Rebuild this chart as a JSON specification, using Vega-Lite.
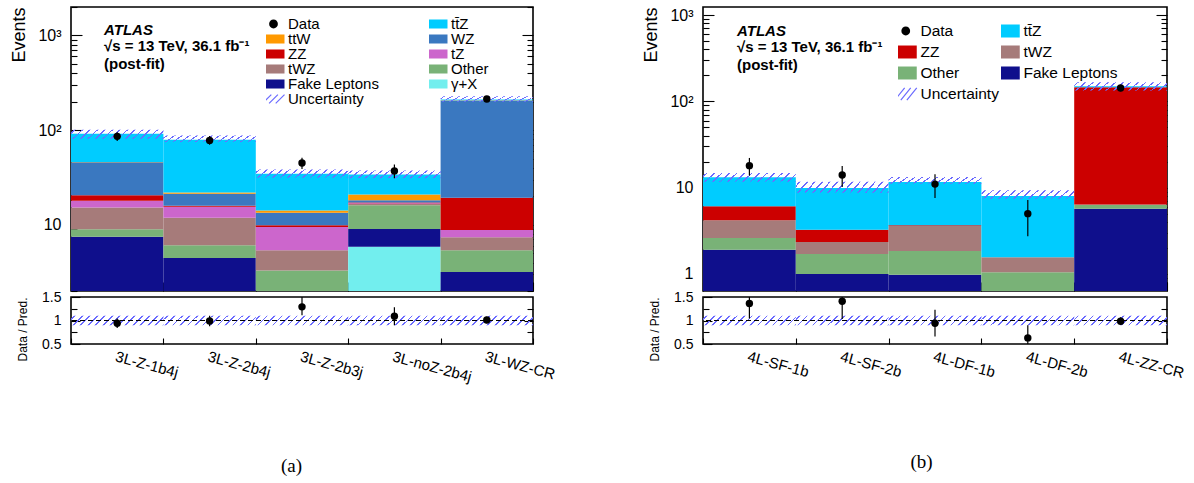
{
  "$schema": "https://vega.github.io/schema/vega-lite/v6.json",
  "padding": {"left": 10, "top": 5, "right": 5, "bottom": 5},
  "config": {
    "view": {"stroke": "black", "strokeWidth": 1.6},
    "font": "Liberation Sans",
    "axis": {"domain": false, "grid": false, "tickColor": "black", "tickWidth": 1.1, "labelColor": "black", "titleColor": "black", "labelFont": "Liberation Sans", "titleFont": "Liberation Sans", "titleFontWeight": "normal"},
    "legend": {"labelFont": "Liberation Sans", "labelColor": "black"},
    "title": {"color": "black", "subtitleColor": "black"}
  },
  "datasets": {
    "stackA": [
      {"region": "3L-Z-1b4j", "process": "Fake Leptons", "rank": 2, "events": 7.5},
      {"region": "3L-Z-1b4j", "process": "Other", "rank": 3, "events": 1.5},
      {"region": "3L-Z-1b4j", "process": "tWZ", "rank": 4, "events": 6.2},
      {"region": "3L-Z-1b4j", "process": "tZ", "rank": 5, "events": 2.8},
      {"region": "3L-Z-1b4j", "process": "ZZ", "rank": 6, "events": 2.5},
      {"region": "3L-Z-1b4j", "process": "WZ", "rank": 7, "events": 25.2},
      {"region": "3L-Z-1b4j", "process": "ttW", "rank": 8, "events": 0.5},
      {"region": "3L-Z-1b4j", "process": "tt̄Z", "rank": 9, "events": 45.4},
      {"region": "3L-Z-2b4j", "process": "Fake Leptons", "rank": 2, "events": 4.46},
      {"region": "3L-Z-2b4j", "process": "Other", "rank": 3, "events": 1.62},
      {"region": "3L-Z-2b4j", "process": "tWZ", "rank": 4, "events": 5.82},
      {"region": "3L-Z-2b4j", "process": "tZ", "rank": 5, "events": 3.6},
      {"region": "3L-Z-2b4j", "process": "ZZ", "rank": 6, "events": 0.4},
      {"region": "3L-Z-2b4j", "process": "WZ", "rank": 7, "events": 5.4},
      {"region": "3L-Z-2b4j", "process": "ttW", "rank": 8, "events": 0.7},
      {"region": "3L-Z-2b4j", "process": "tt̄Z", "rank": 9, "events": 57.2},
      {"region": "3L-Z-2b3j", "process": "Fake Leptons", "rank": 2, "events": 1.5},
      {"region": "3L-Z-2b3j", "process": "Other", "rank": 3, "events": 1.8},
      {"region": "3L-Z-2b3j", "process": "tWZ", "rank": 4, "events": 2.08},
      {"region": "3L-Z-2b3j", "process": "tZ", "rank": 5, "events": 4.1},
      {"region": "3L-Z-2b3j", "process": "ZZ", "rank": 6, "events": 0.4},
      {"region": "3L-Z-2b3j", "process": "WZ", "rank": 7, "events": 3.52},
      {"region": "3L-Z-2b3j", "process": "ttW", "rank": 8, "events": 0.8},
      {"region": "3L-Z-2b3j", "process": "tt̄Z", "rank": 9, "events": 20.5},
      {"region": "3L-noZ-2b4j", "process": "γ+X", "rank": 1, "events": 5.88},
      {"region": "3L-noZ-2b4j", "process": "Fake Leptons", "rank": 2, "events": 3.16},
      {"region": "3L-noZ-2b4j", "process": "Other", "rank": 3, "events": 7.06},
      {"region": "3L-noZ-2b4j", "process": "tWZ", "rank": 4, "events": 0.5},
      {"region": "3L-noZ-2b4j", "process": "tZ", "rank": 5, "events": 0.3},
      {"region": "3L-noZ-2b4j", "process": "ZZ", "rank": 6, "events": 0.3},
      {"region": "3L-noZ-2b4j", "process": "WZ", "rank": 7, "events": 0.94},
      {"region": "3L-noZ-2b4j", "process": "ttW", "rank": 8, "events": 2.8},
      {"region": "3L-noZ-2b4j", "process": "tt̄Z", "rank": 9, "events": 13.1},
      {"region": "3L-WZ-CR", "process": "Fake Leptons", "rank": 2, "events": 3.18},
      {"region": "3L-WZ-CR", "process": "Other", "rank": 3, "events": 2.2},
      {"region": "3L-WZ-CR", "process": "tWZ", "rank": 4, "events": 2.0},
      {"region": "3L-WZ-CR", "process": "tZ", "rank": 5, "events": 1.43},
      {"region": "3L-WZ-CR", "process": "ZZ", "rank": 6, "events": 10.5},
      {"region": "3L-WZ-CR", "process": "WZ", "rank": 7, "events": 186.7},
      {"region": "3L-WZ-CR", "process": "ttW", "rank": 8, "events": 1.0},
      {"region": "3L-WZ-CR", "process": "tt̄Z", "rank": 9, "events": 4.0}
    ],
    "sumA": [
      {"region": "3L-Z-1b4j", "data": 86, "dlo": 77, "dhi": 95, "ulo": 81, "uhi": 101, "ratio": 0.943, "rlo": 0.84, "rhi": 1.04, "blo": 0.9, "bhi": 1.1},
      {"region": "3L-Z-2b4j", "data": 78, "dlo": 70, "dhi": 87, "ulo": 75, "uhi": 88, "ratio": 0.99, "rlo": 0.88, "rhi": 1.1, "blo": 0.9, "bhi": 1.1},
      {"region": "3L-Z-2b3j", "data": 45, "dlo": 39, "dhi": 51, "ulo": 31.5, "uhi": 38.5, "ratio": 1.29, "rlo": 1.11, "rhi": 1.6, "blo": 0.9, "bhi": 1.1},
      {"region": "3L-noZ-2b4j", "data": 37, "dlo": 31, "dhi": 43.4, "ulo": 31, "uhi": 37.5, "ratio": 1.09, "rlo": 0.9, "rhi": 1.28, "blo": 0.9, "bhi": 1.1},
      {"region": "3L-WZ-CR", "data": 213, "dlo": 199, "dhi": 228, "ulo": 200, "uhi": 228, "ratio": 1.01, "rlo": 0.94, "rhi": 1.08, "blo": 0.9, "bhi": 1.1}
    ],
    "stackB": [
      {"region": "4L-SF-1b", "process": "Fake Leptons", "rank": 1, "events": 1.91},
      {"region": "4L-SF-1b", "process": "Other", "rank": 2, "events": 0.7},
      {"region": "4L-SF-1b", "process": "tWZ", "rank": 3, "events": 1.58},
      {"region": "4L-SF-1b", "process": "ZZ", "rank": 4, "events": 1.9},
      {"region": "4L-SF-1b", "process": "tt̄Z", "rank": 5, "events": 7.11},
      {"region": "4L-SF-2b", "process": "Fake Leptons", "rank": 1, "events": 1.0},
      {"region": "4L-SF-2b", "process": "Other", "rank": 2, "events": 0.7},
      {"region": "4L-SF-2b", "process": "tWZ", "rank": 3, "events": 0.65},
      {"region": "4L-SF-2b", "process": "ZZ", "rank": 4, "events": 0.91},
      {"region": "4L-SF-2b", "process": "tt̄Z", "rank": 5, "events": 6.67},
      {"region": "4L-DF-1b", "process": "Fake Leptons", "rank": 1, "events": 0.98},
      {"region": "4L-DF-1b", "process": "Other", "rank": 2, "events": 0.87},
      {"region": "4L-DF-1b", "process": "tWZ", "rank": 3, "events": 1.75},
      {"region": "4L-DF-1b", "process": "ZZ", "rank": 4, "events": 0.07},
      {"region": "4L-DF-1b", "process": "tt̄Z", "rank": 5, "events": 7.93},
      {"region": "4L-DF-2b", "process": "Fake Leptons", "rank": 1, "events": 0.3},
      {"region": "4L-DF-2b", "process": "Other", "rank": 2, "events": 0.75},
      {"region": "4L-DF-2b", "process": "tWZ", "rank": 3, "events": 0.51},
      {"region": "4L-DF-2b", "process": "tt̄Z", "rank": 5, "events": 6.46},
      {"region": "4L-ZZ-CR", "process": "Fake Leptons", "rank": 1, "events": 5.71},
      {"region": "4L-ZZ-CR", "process": "Other", "rank": 2, "events": 0.59},
      {"region": "4L-ZZ-CR", "process": "tWZ", "rank": 3, "events": 0.1},
      {"region": "4L-ZZ-CR", "process": "ZZ", "rank": 4, "events": 139.3},
      {"region": "4L-ZZ-CR", "process": "tt̄Z", "rank": 5, "events": 3.9}
    ],
    "sumB": [
      {"region": "4L-SF-1b", "data": 18, "dlo": 13.8, "dhi": 22.1, "ulo": 11.7, "uhi": 14.8, "ratio": 1.36, "rlo": 1.04, "rhi": 1.67, "blo": 0.9, "bhi": 1.1},
      {"region": "4L-SF-2b", "data": 14, "dlo": 10.2, "dhi": 17.8, "ulo": 8.76, "uhi": 11.7, "ratio": 1.41, "rlo": 1.03, "rhi": 1.79, "blo": 0.9, "bhi": 1.1},
      {"region": "4L-DF-1b", "data": 11, "dlo": 7.6, "dhi": 14.3, "ulo": 11.1, "uhi": 13.3, "ratio": 0.94, "rlo": 0.66, "rhi": 1.23, "blo": 0.9, "bhi": 1.1},
      {"region": "4L-DF-2b", "data": 5, "dlo": 2.73, "dhi": 7.2, "ulo": 7.45, "uhi": 9.33, "ratio": 0.63, "rlo": 0.34, "rhi": 0.9, "blo": 0.9, "bhi": 1.1},
      {"region": "4L-ZZ-CR", "data": 143, "dlo": 131, "dhi": 155, "ulo": 134, "uhi": 167, "ratio": 0.985, "rlo": 0.91, "rhi": 1.07, "blo": 0.9, "bhi": 1.1}
    ]
  },
  "resolve": {"scale": {"color": "independent"}, "legend": {"color": "independent"}},
  "bounds": "flush",
  "align": "each",
  "columns": 2,
  "spacing": {"row": 6, "column": 170},
  "concat": [
    {
      "width": 462,
      "height": 284,
      "title": {"text": "ATLAS", "subtitle": ["√s = 13 TeV, 36.1 fb⁻¹", "(post-fit)"], "anchor": "start", "frame": "group", "orient": "top", "offset": -66, "dx": 33, "font": "Liberation Sans", "fontSize": 15, "fontStyle": "italic", "fontWeight": "bold", "subtitleFont": "Liberation Sans", "subtitleFontSize": 15, "subtitleFontWeight": "bold", "subtitleLineHeight": 18, "subtitlePadding": 1},
      "resolve": {"axis": {"y": "independent"}},
      "encoding": {
        "x": {"field": "region", "type": "nominal", "sort": null, "scale": {"domain": ["3L-Z-1b4j", "3L-Z-2b4j", "3L-Z-2b3j", "3L-noZ-2b4j", "3L-WZ-CR"], "paddingInner": 0, "paddingOuter": 0}, "axis": {"labels": false, "title": null, "tickBand": "extent", "tickSize": -9}}
      },
      "layer": [
        {
          "data": {"name": "stackA"},
          "transform": [{"stack": "events", "groupby": ["region"], "sort": [{"field": "rank", "order": "ascending"}], "as": ["lo", "hi"]}],
          "mark": {"type": "bar", "clip": true},
          "encoding": {
            "y": {"field": "lo", "type": "quantitative", "title": "Events", "scale": {"type": "log", "domain": [2, 2000], "clamp": true, "nice": false},
              "axis": {"orient": "left", "titleFontSize": 18, "titleAnchor": "end", "titlePadding": 9, "tickCount": 40, "labelOverlap": false, "labelPadding": 21,
                "labelFontSize": {"condition": {"test": "datum.value == 10 || datum.value == 100 || datum.value == 1000", "value": 16}, "value": 0},
                "labelExpr": "datum.value == 10 ? '10' : datum.value == 100 ? '10²' : datum.value == 1000 ? '10³' : ''",
                "tickSize": {"condition": {"test": "datum.value == 10 || datum.value == 100 || datum.value == 1000", "value": -11}, "value": -6}}},
            "y2": {"field": "hi"},
            "color": {"field": "process", "type": "nominal",
              "scale": {"domain": ["Data", "ttW", "ZZ", "tWZ", "Fake Leptons", "Uncertainty", "tt̄Z", "WZ", "tZ", "Other", "γ+X"],
                "range": ["#000000", "#ff9900", "#cc0000", "#a67b7a", "#0f0f8c", "#6b6bff", "#00ccff", "#3a78c0", "#cc66cc", "#79b277", "#72eeee"]},
              "legend": {"orient": "none", "legendX": 195, "legendY": 10, "columns": 2, "columnPadding": 50, "rowPadding": 0, "clipHeight": 14, "symbolSize": 484, "labelFontSize": 15, "labelOffset": 7, "labelLimit": 0, "title": null, "symbolStrokeWidth": 0,
                "encode": {
                  "symbols": {"update": {
                  "shape": {"signal": "datum.value === 'Data' ? 'M0.4,0A0.4,0.4,0,1,1,-0.4,0A0.4,0.4,0,1,1,0.4,0Z' : datum.value === 'Uncertainty' ? 'M-1,0.4L-0.2,-0.4M-0.4,0.4L0.4,-0.4M0.2,0.4L1,-0.4' : 'M-1,-0.41H1V0.41H-1Z'"},
                  "stroke": {"value": "#6b6bff"},
                  "strokeWidth": {"signal": "datum.value === 'Uncertainty' ? 1.2 : 0"}}}}}}
          }
        },
        {
          "data": {"name": "sumA"},
          "mark": {"type": "bar", "clip": true, "fill": {"gradient": "linear", "x1": 0, "y1": 0, "x2": 1.1, "y2": 0.113, "stops": [
            {"offset": 0, "color": "rgba(107,107,255,0)"},
            {"offset": 0.030, "color": "rgba(107,107,255,0)"}, {"offset": 0.030, "color": "#6b6bff"}, {"offset": 0.047, "color": "#6b6bff"}, {"offset": 0.047, "color": "rgba(107,107,255,0)"},
            {"offset": 0.103, "color": "rgba(107,107,255,0)"}, {"offset": 0.103, "color": "#6b6bff"}, {"offset": 0.120, "color": "#6b6bff"}, {"offset": 0.120, "color": "rgba(107,107,255,0)"},
            {"offset": 0.176, "color": "rgba(107,107,255,0)"}, {"offset": 0.176, "color": "#6b6bff"}, {"offset": 0.193, "color": "#6b6bff"}, {"offset": 0.193, "color": "rgba(107,107,255,0)"},
            {"offset": 0.249, "color": "rgba(107,107,255,0)"}, {"offset": 0.249, "color": "#6b6bff"}, {"offset": 0.266, "color": "#6b6bff"}, {"offset": 0.266, "color": "rgba(107,107,255,0)"},
            {"offset": 0.322, "color": "rgba(107,107,255,0)"}, {"offset": 0.322, "color": "#6b6bff"}, {"offset": 0.339, "color": "#6b6bff"}, {"offset": 0.339, "color": "rgba(107,107,255,0)"},
            {"offset": 0.395, "color": "rgba(107,107,255,0)"}, {"offset": 0.395, "color": "#6b6bff"}, {"offset": 0.412, "color": "#6b6bff"}, {"offset": 0.412, "color": "rgba(107,107,255,0)"},
            {"offset": 0.468, "color": "rgba(107,107,255,0)"}, {"offset": 0.468, "color": "#6b6bff"}, {"offset": 0.485, "color": "#6b6bff"}, {"offset": 0.485, "color": "rgba(107,107,255,0)"},
            {"offset": 0.541, "color": "rgba(107,107,255,0)"}, {"offset": 0.541, "color": "#6b6bff"}, {"offset": 0.558, "color": "#6b6bff"}, {"offset": 0.558, "color": "rgba(107,107,255,0)"},
            {"offset": 0.614, "color": "rgba(107,107,255,0)"}, {"offset": 0.614, "color": "#6b6bff"}, {"offset": 0.631, "color": "#6b6bff"}, {"offset": 0.631, "color": "rgba(107,107,255,0)"},
            {"offset": 0.687, "color": "rgba(107,107,255,0)"}, {"offset": 0.687, "color": "#6b6bff"}, {"offset": 0.704, "color": "#6b6bff"}, {"offset": 0.704, "color": "rgba(107,107,255,0)"},
            {"offset": 0.760, "color": "rgba(107,107,255,0)"}, {"offset": 0.760, "color": "#6b6bff"}, {"offset": 0.777, "color": "#6b6bff"}, {"offset": 0.777, "color": "rgba(107,107,255,0)"},
            {"offset": 0.833, "color": "rgba(107,107,255,0)"}, {"offset": 0.833, "color": "#6b6bff"}, {"offset": 0.850, "color": "#6b6bff"}, {"offset": 0.850, "color": "rgba(107,107,255,0)"},
            {"offset": 0.906, "color": "rgba(107,107,255,0)"}, {"offset": 0.906, "color": "#6b6bff"}, {"offset": 0.923, "color": "#6b6bff"}, {"offset": 0.923, "color": "rgba(107,107,255,0)"},
            {"offset": 0.979, "color": "rgba(107,107,255,0)"}, {"offset": 0.979, "color": "#6b6bff"}, {"offset": 0.996, "color": "#6b6bff"}, {"offset": 0.996, "color": "rgba(107,107,255,0)"},
            {"offset": 1, "color": "rgba(107,107,255,0)"}]}},
          "encoding": {
            "y": {"field": "ulo", "type": "quantitative", "title": "Events", "axis": null, "scale": {"type": "log", "domain": [2, 2000], "clamp": true, "nice": false}},
            "y2": {"field": "uhi"}
          }
        },
        {
          "data": {"name": "sumA"},
          "mark": {"type": "rule", "color": "black", "strokeWidth": 1.2},
          "encoding": {
            "y": {"field": "dlo", "type": "quantitative", "title": "Events", "axis": null, "scale": {"type": "log", "domain": [2, 2000], "clamp": true, "nice": false}},
            "y2": {"field": "dhi"}
          }
        },
        {
          "data": {"name": "sumA"},
          "mark": {"type": "circle", "color": "black", "opacity": 1, "size": 55},
          "encoding": {
            "y": {"field": "data", "type": "quantitative", "scale": {"type": "log", "domain": [2, 2000], "clamp": true, "nice": false},
              "axis": {"orient": "right", "title": null, "labels": false, "tickCount": 40,
                "tickSize": {"condition": {"test": "datum.value == 10 || datum.value == 100 || datum.value == 1000", "value": -11}, "value": -6}}}
          }
        }
      ]
    },
    {
      "width": 464,
      "height": 284,
      "title": {"text": "ATLAS", "subtitle": ["√s = 13 TeV, 36.1 fb⁻¹", "(post-fit)"], "anchor": "start", "frame": "group", "orient": "top", "offset": -66, "dx": 34, "font": "Liberation Sans", "fontSize": 15, "fontStyle": "italic", "fontWeight": "bold", "subtitleFont": "Liberation Sans", "subtitleFontSize": 15, "subtitleFontWeight": "bold", "subtitleLineHeight": 18, "subtitlePadding": 1},
      "resolve": {"axis": {"y": "independent"}},
      "encoding": {
        "x": {"field": "region", "type": "nominal", "sort": null, "scale": {"domain": ["4L-SF-1b", "4L-SF-2b", "4L-DF-1b", "4L-DF-2b", "4L-ZZ-CR"], "paddingInner": 0, "paddingOuter": 0}, "axis": {"labels": false, "title": null, "tickBand": "extent", "tickSize": -9}}
      },
      "layer": [
        {
          "data": {"name": "stackB"},
          "transform": [{"stack": "events", "groupby": ["region"], "sort": [{"field": "rank", "order": "ascending"}], "as": ["lo", "hi"]}],
          "mark": {"type": "bar", "clip": true},
          "encoding": {
            "y": {"field": "lo", "type": "quantitative", "title": "Events", "scale": {"type": "log", "domain": [0.635, 1240], "clamp": true, "nice": false},
              "axis": {"orient": "left", "titleFontSize": 18, "titleAnchor": "end", "titlePadding": 9, "tickCount": 40, "labelOverlap": false, "labelPadding": 21,
                "labelFontSize": {"condition": {"test": "datum.value == 1 || datum.value == 10 || datum.value == 100 || datum.value == 1000", "value": 16}, "value": 0},
                "labelExpr": "datum.value == 1 ? '1' : datum.value == 10 ? '10' : datum.value == 100 ? '10²' : datum.value == 1000 ? '10³' : ''",
                "tickSize": {"condition": {"test": "datum.value == 1 || datum.value == 10 || datum.value == 100 || datum.value == 1000", "value": -11}, "value": -6}}},
            "y2": {"field": "hi"},
            "color": {"field": "process", "type": "nominal",
              "scale": {"domain": ["Data", "ZZ", "Other", "Uncertainty", "tt̄Z", "tWZ", "Fake Leptons"],
                "range": ["#000000", "#cc0000", "#79b277", "#6b6bff", "#00ccff", "#a67b7a", "#0f0f8c"]},
              "legend": {"orient": "none", "legendX": 195, "legendY": 15, "columns": 2, "columnPadding": 2, "rowPadding": 3, "clipHeight": 18, "symbolSize": 484, "labelFontSize": 15.5, "labelOffset": 7, "labelLimit": 0, "title": null, "symbolStrokeWidth": 0,
                "encode": {"symbols": {"update": {
                  "shape": {"signal": "datum.value === 'Data' ? 'M0.4,0A0.4,0.4,0,1,1,-0.4,0A0.4,0.4,0,1,1,0.4,0Z' : datum.value === 'Uncertainty' ? 'M-1,0.55L-0.1,-0.55M-0.45,0.55L0.45,-0.55M0.1,0.55L1,-0.55' : 'M-1,-0.59H1V0.59H-1Z'"},
                  "stroke": {"value": "#6b6bff"},
                  "strokeWidth": {"signal": "datum.value === 'Uncertainty' ? 1.2 : 0"}}}}}}
          }
        },
        {
          "data": {"name": "sumB"},
          "mark": {"type": "bar", "clip": true, "fill": {"gradient": "linear", "x1": 0, "y1": 0, "x2": 1.1, "y2": 0.113, "stops": [
            {"offset": 0, "color": "rgba(107,107,255,0)"},
            {"offset": 0.030, "color": "rgba(107,107,255,0)"}, {"offset": 0.030, "color": "#6b6bff"}, {"offset": 0.047, "color": "#6b6bff"}, {"offset": 0.047, "color": "rgba(107,107,255,0)"},
            {"offset": 0.103, "color": "rgba(107,107,255,0)"}, {"offset": 0.103, "color": "#6b6bff"}, {"offset": 0.120, "color": "#6b6bff"}, {"offset": 0.120, "color": "rgba(107,107,255,0)"},
            {"offset": 0.176, "color": "rgba(107,107,255,0)"}, {"offset": 0.176, "color": "#6b6bff"}, {"offset": 0.193, "color": "#6b6bff"}, {"offset": 0.193, "color": "rgba(107,107,255,0)"},
            {"offset": 0.249, "color": "rgba(107,107,255,0)"}, {"offset": 0.249, "color": "#6b6bff"}, {"offset": 0.266, "color": "#6b6bff"}, {"offset": 0.266, "color": "rgba(107,107,255,0)"},
            {"offset": 0.322, "color": "rgba(107,107,255,0)"}, {"offset": 0.322, "color": "#6b6bff"}, {"offset": 0.339, "color": "#6b6bff"}, {"offset": 0.339, "color": "rgba(107,107,255,0)"},
            {"offset": 0.395, "color": "rgba(107,107,255,0)"}, {"offset": 0.395, "color": "#6b6bff"}, {"offset": 0.412, "color": "#6b6bff"}, {"offset": 0.412, "color": "rgba(107,107,255,0)"},
            {"offset": 0.468, "color": "rgba(107,107,255,0)"}, {"offset": 0.468, "color": "#6b6bff"}, {"offset": 0.485, "color": "#6b6bff"}, {"offset": 0.485, "color": "rgba(107,107,255,0)"},
            {"offset": 0.541, "color": "rgba(107,107,255,0)"}, {"offset": 0.541, "color": "#6b6bff"}, {"offset": 0.558, "color": "#6b6bff"}, {"offset": 0.558, "color": "rgba(107,107,255,0)"},
            {"offset": 0.614, "color": "rgba(107,107,255,0)"}, {"offset": 0.614, "color": "#6b6bff"}, {"offset": 0.631, "color": "#6b6bff"}, {"offset": 0.631, "color": "rgba(107,107,255,0)"},
            {"offset": 0.687, "color": "rgba(107,107,255,0)"}, {"offset": 0.687, "color": "#6b6bff"}, {"offset": 0.704, "color": "#6b6bff"}, {"offset": 0.704, "color": "rgba(107,107,255,0)"},
            {"offset": 0.760, "color": "rgba(107,107,255,0)"}, {"offset": 0.760, "color": "#6b6bff"}, {"offset": 0.777, "color": "#6b6bff"}, {"offset": 0.777, "color": "rgba(107,107,255,0)"},
            {"offset": 0.833, "color": "rgba(107,107,255,0)"}, {"offset": 0.833, "color": "#6b6bff"}, {"offset": 0.850, "color": "#6b6bff"}, {"offset": 0.850, "color": "rgba(107,107,255,0)"},
            {"offset": 0.906, "color": "rgba(107,107,255,0)"}, {"offset": 0.906, "color": "#6b6bff"}, {"offset": 0.923, "color": "#6b6bff"}, {"offset": 0.923, "color": "rgba(107,107,255,0)"},
            {"offset": 0.979, "color": "rgba(107,107,255,0)"}, {"offset": 0.979, "color": "#6b6bff"}, {"offset": 0.996, "color": "#6b6bff"}, {"offset": 0.996, "color": "rgba(107,107,255,0)"},
            {"offset": 1, "color": "rgba(107,107,255,0)"}]}},
          "encoding": {
            "y": {"field": "ulo", "type": "quantitative", "title": "Events", "axis": null, "scale": {"type": "log", "domain": [0.635, 1240], "clamp": true, "nice": false}},
            "y2": {"field": "uhi"}
          }
        },
        {
          "data": {"name": "sumB"},
          "mark": {"type": "rule", "color": "black", "strokeWidth": 1.2},
          "encoding": {
            "y": {"field": "dlo", "type": "quantitative", "title": "Events", "axis": null, "scale": {"type": "log", "domain": [0.635, 1240], "clamp": true, "nice": false}},
            "y2": {"field": "dhi"}
          }
        },
        {
          "data": {"name": "sumB"},
          "mark": {"type": "circle", "color": "black", "opacity": 1, "size": 55},
          "encoding": {
            "y": {"field": "data", "type": "quantitative", "scale": {"type": "log", "domain": [0.635, 1240], "clamp": true, "nice": false},
              "axis": {"orient": "right", "title": null, "labels": false, "tickCount": 40,
                "tickSize": {"condition": {"test": "datum.value == 1 || datum.value == 10 || datum.value == 100 || datum.value == 1000", "value": -11}, "value": -6}}}
          }
        }
      ]
    },
    {
      "width": 462,
      "height": 47,
      "data": {"name": "sumA"},
      "resolve": {"axis": {"y": "independent"}},
      "encoding": {
        "x": {"field": "region", "type": "nominal", "sort": null, "scale": {"domain": ["3L-Z-1b4j", "3L-Z-2b4j", "3L-Z-2b3j", "3L-noZ-2b4j", "3L-WZ-CR"], "paddingInner": 0, "paddingOuter": 0},
          "axis": {"title": "(a)", "titleFont": "Liberation Serif", "titleFontSize": 19, "titleFontWeight": "normal", "titlePadding": 72, "titleX": 220, "labelAngle": 15, "labelAlign": "left", "labelBaseline": "top", "labelFontSize": 15, "labelPadding": 11, "labelOverlap": false, "labelFlush": false, "tickBand": "extent", "tickSize": -6}}
      },
      "layer": [
        {
          "mark": {"type": "bar", "clip": true, "fill": {"gradient": "linear", "x1": 0, "y1": 0, "x2": 1.1, "y2": 0.113, "stops": [
            {"offset": 0, "color": "rgba(107,107,255,0)"},
            {"offset": 0.030, "color": "rgba(107,107,255,0)"}, {"offset": 0.030, "color": "#6b6bff"}, {"offset": 0.047, "color": "#6b6bff"}, {"offset": 0.047, "color": "rgba(107,107,255,0)"},
            {"offset": 0.103, "color": "rgba(107,107,255,0)"}, {"offset": 0.103, "color": "#6b6bff"}, {"offset": 0.120, "color": "#6b6bff"}, {"offset": 0.120, "color": "rgba(107,107,255,0)"},
            {"offset": 0.176, "color": "rgba(107,107,255,0)"}, {"offset": 0.176, "color": "#6b6bff"}, {"offset": 0.193, "color": "#6b6bff"}, {"offset": 0.193, "color": "rgba(107,107,255,0)"},
            {"offset": 0.249, "color": "rgba(107,107,255,0)"}, {"offset": 0.249, "color": "#6b6bff"}, {"offset": 0.266, "color": "#6b6bff"}, {"offset": 0.266, "color": "rgba(107,107,255,0)"},
            {"offset": 0.322, "color": "rgba(107,107,255,0)"}, {"offset": 0.322, "color": "#6b6bff"}, {"offset": 0.339, "color": "#6b6bff"}, {"offset": 0.339, "color": "rgba(107,107,255,0)"},
            {"offset": 0.395, "color": "rgba(107,107,255,0)"}, {"offset": 0.395, "color": "#6b6bff"}, {"offset": 0.412, "color": "#6b6bff"}, {"offset": 0.412, "color": "rgba(107,107,255,0)"},
            {"offset": 0.468, "color": "rgba(107,107,255,0)"}, {"offset": 0.468, "color": "#6b6bff"}, {"offset": 0.485, "color": "#6b6bff"}, {"offset": 0.485, "color": "rgba(107,107,255,0)"},
            {"offset": 0.541, "color": "rgba(107,107,255,0)"}, {"offset": 0.541, "color": "#6b6bff"}, {"offset": 0.558, "color": "#6b6bff"}, {"offset": 0.558, "color": "rgba(107,107,255,0)"},
            {"offset": 0.614, "color": "rgba(107,107,255,0)"}, {"offset": 0.614, "color": "#6b6bff"}, {"offset": 0.631, "color": "#6b6bff"}, {"offset": 0.631, "color": "rgba(107,107,255,0)"},
            {"offset": 0.687, "color": "rgba(107,107,255,0)"}, {"offset": 0.687, "color": "#6b6bff"}, {"offset": 0.704, "color": "#6b6bff"}, {"offset": 0.704, "color": "rgba(107,107,255,0)"},
            {"offset": 0.760, "color": "rgba(107,107,255,0)"}, {"offset": 0.760, "color": "#6b6bff"}, {"offset": 0.777, "color": "#6b6bff"}, {"offset": 0.777, "color": "rgba(107,107,255,0)"},
            {"offset": 0.833, "color": "rgba(107,107,255,0)"}, {"offset": 0.833, "color": "#6b6bff"}, {"offset": 0.850, "color": "#6b6bff"}, {"offset": 0.850, "color": "rgba(107,107,255,0)"},
            {"offset": 0.906, "color": "rgba(107,107,255,0)"}, {"offset": 0.906, "color": "#6b6bff"}, {"offset": 0.923, "color": "#6b6bff"}, {"offset": 0.923, "color": "rgba(107,107,255,0)"},
            {"offset": 0.979, "color": "rgba(107,107,255,0)"}, {"offset": 0.979, "color": "#6b6bff"}, {"offset": 0.996, "color": "#6b6bff"}, {"offset": 0.996, "color": "rgba(107,107,255,0)"},
            {"offset": 1, "color": "rgba(107,107,255,0)"}]}},
          "encoding": {
            "y": {"field": "blo", "type": "quantitative", "title": "Data / Pred.", "scale": {"domain": [0.5, 1.5], "nice": false, "zero": false},
              "axis": {"orient": "left", "values": [0.5, 0.75, 1, 1.25, 1.5], "titleFontSize": 12, "titleAnchor": "end", "titlePadding": 12, "labelFontSize": 14, "labelPadding": 19, "labelOverlap": false,
                "labelExpr": "datum.value == 1 ? '1' : datum.value == 0.5 ? '0.5' : datum.value == 1.5 ? '1.5' : ''",
                "tickSize": {"condition": {"test": "datum.value == 0.75 || datum.value == 1.25", "value": -6}, "value": -9}}},
            "y2": {"field": "bhi"}
          }
        },
        {
          "mark": {"type": "rule", "color": "black", "strokeWidth": 1, "strokeDash": [5, 3]},
          "encoding": {"x": null, "y": {"datum": 1, "type": "quantitative", "axis": null, "scale": {"domain": [0.5, 1.5], "nice": false, "zero": false}}}
        },
        {
          "mark": {"type": "rule", "color": "black", "strokeWidth": 1.2, "clip": true},
          "encoding": {
            "y": {"field": "rlo", "type": "quantitative", "axis": null, "scale": {"domain": [0.5, 1.5], "nice": false, "zero": false}},
            "y2": {"field": "rhi"}
          }
        },
        {
          "mark": {"type": "circle", "color": "black", "opacity": 1, "size": 55, "clip": true},
          "encoding": {
            "y": {"field": "ratio", "type": "quantitative", "scale": {"domain": [0.5, 1.5], "nice": false, "zero": false},
              "axis": {"orient": "right", "title": null, "labels": false, "values": [0.75, 1, 1.25],
                "tickSize": {"condition": {"test": "datum.value == 0.75 || datum.value == 1.25", "value": -6}, "value": -9}}}
          }
        }
      ]
    },
    {
      "width": 464,
      "height": 47,
      "data": {"name": "sumB"},
      "resolve": {"axis": {"y": "independent"}},
      "encoding": {
        "x": {"field": "region", "type": "nominal", "sort": null, "scale": {"domain": ["4L-SF-1b", "4L-SF-2b", "4L-DF-1b", "4L-DF-2b", "4L-ZZ-CR"], "paddingInner": 0, "paddingOuter": 0},
          "axis": {"title": "(b)", "titleFont": "Liberation Serif", "titleFontSize": 19, "titleFontWeight": "normal", "titlePadding": 72, "titleX": 218, "labelAngle": 15, "labelAlign": "left", "labelBaseline": "top", "labelFontSize": 15, "labelPadding": 11, "labelOverlap": false, "labelFlush": false, "tickBand": "extent", "tickSize": -6}}
      },
      "layer": [
        {
          "mark": {"type": "bar", "clip": true, "fill": {"gradient": "linear", "x1": 0, "y1": 0, "x2": 1.1, "y2": 0.113, "stops": [
            {"offset": 0, "color": "rgba(107,107,255,0)"},
            {"offset": 0.030, "color": "rgba(107,107,255,0)"}, {"offset": 0.030, "color": "#6b6bff"}, {"offset": 0.047, "color": "#6b6bff"}, {"offset": 0.047, "color": "rgba(107,107,255,0)"},
            {"offset": 0.103, "color": "rgba(107,107,255,0)"}, {"offset": 0.103, "color": "#6b6bff"}, {"offset": 0.120, "color": "#6b6bff"}, {"offset": 0.120, "color": "rgba(107,107,255,0)"},
            {"offset": 0.176, "color": "rgba(107,107,255,0)"}, {"offset": 0.176, "color": "#6b6bff"}, {"offset": 0.193, "color": "#6b6bff"}, {"offset": 0.193, "color": "rgba(107,107,255,0)"},
            {"offset": 0.249, "color": "rgba(107,107,255,0)"}, {"offset": 0.249, "color": "#6b6bff"}, {"offset": 0.266, "color": "#6b6bff"}, {"offset": 0.266, "color": "rgba(107,107,255,0)"},
            {"offset": 0.322, "color": "rgba(107,107,255,0)"}, {"offset": 0.322, "color": "#6b6bff"}, {"offset": 0.339, "color": "#6b6bff"}, {"offset": 0.339, "color": "rgba(107,107,255,0)"},
            {"offset": 0.395, "color": "rgba(107,107,255,0)"}, {"offset": 0.395, "color": "#6b6bff"}, {"offset": 0.412, "color": "#6b6bff"}, {"offset": 0.412, "color": "rgba(107,107,255,0)"},
            {"offset": 0.468, "color": "rgba(107,107,255,0)"}, {"offset": 0.468, "color": "#6b6bff"}, {"offset": 0.485, "color": "#6b6bff"}, {"offset": 0.485, "color": "rgba(107,107,255,0)"},
            {"offset": 0.541, "color": "rgba(107,107,255,0)"}, {"offset": 0.541, "color": "#6b6bff"}, {"offset": 0.558, "color": "#6b6bff"}, {"offset": 0.558, "color": "rgba(107,107,255,0)"},
            {"offset": 0.614, "color": "rgba(107,107,255,0)"}, {"offset": 0.614, "color": "#6b6bff"}, {"offset": 0.631, "color": "#6b6bff"}, {"offset": 0.631, "color": "rgba(107,107,255,0)"},
            {"offset": 0.687, "color": "rgba(107,107,255,0)"}, {"offset": 0.687, "color": "#6b6bff"}, {"offset": 0.704, "color": "#6b6bff"}, {"offset": 0.704, "color": "rgba(107,107,255,0)"},
            {"offset": 0.760, "color": "rgba(107,107,255,0)"}, {"offset": 0.760, "color": "#6b6bff"}, {"offset": 0.777, "color": "#6b6bff"}, {"offset": 0.777, "color": "rgba(107,107,255,0)"},
            {"offset": 0.833, "color": "rgba(107,107,255,0)"}, {"offset": 0.833, "color": "#6b6bff"}, {"offset": 0.850, "color": "#6b6bff"}, {"offset": 0.850, "color": "rgba(107,107,255,0)"},
            {"offset": 0.906, "color": "rgba(107,107,255,0)"}, {"offset": 0.906, "color": "#6b6bff"}, {"offset": 0.923, "color": "#6b6bff"}, {"offset": 0.923, "color": "rgba(107,107,255,0)"},
            {"offset": 0.979, "color": "rgba(107,107,255,0)"}, {"offset": 0.979, "color": "#6b6bff"}, {"offset": 0.996, "color": "#6b6bff"}, {"offset": 0.996, "color": "rgba(107,107,255,0)"},
            {"offset": 1, "color": "rgba(107,107,255,0)"}]}},
          "encoding": {
            "y": {"field": "blo", "type": "quantitative", "title": "Data / Pred.", "scale": {"domain": [0.5, 1.5], "nice": false, "zero": false},
              "axis": {"orient": "left", "values": [0.5, 0.75, 1, 1.25, 1.5], "titleFontSize": 12, "titleAnchor": "end", "titlePadding": 12, "labelFontSize": 14, "labelPadding": 19, "labelOverlap": false,
                "labelExpr": "datum.value == 1 ? '1' : datum.value == 0.5 ? '0.5' : datum.value == 1.5 ? '1.5' : ''",
                "tickSize": {"condition": {"test": "datum.value == 0.75 || datum.value == 1.25", "value": -6}, "value": -9}}},
            "y2": {"field": "bhi"}
          }
        },
        {
          "mark": {"type": "rule", "color": "black", "strokeWidth": 1, "strokeDash": [5, 3]},
          "encoding": {"x": null, "y": {"datum": 1, "type": "quantitative", "axis": null, "scale": {"domain": [0.5, 1.5], "nice": false, "zero": false}}}
        },
        {
          "mark": {"type": "rule", "color": "black", "strokeWidth": 1.2, "clip": true},
          "encoding": {
            "y": {"field": "rlo", "type": "quantitative", "axis": null, "scale": {"domain": [0.5, 1.5], "nice": false, "zero": false}},
            "y2": {"field": "rhi"}
          }
        },
        {
          "mark": {"type": "circle", "color": "black", "opacity": 1, "size": 55, "clip": true},
          "encoding": {
            "y": {"field": "ratio", "type": "quantitative", "scale": {"domain": [0.5, 1.5], "nice": false, "zero": false},
              "axis": {"orient": "right", "title": null, "labels": false, "values": [0.75, 1, 1.25],
                "tickSize": {"condition": {"test": "datum.value == 0.75 || datum.value == 1.25", "value": -6}, "value": -9}}}
          }
        }
      ]
    }
  ]
}
